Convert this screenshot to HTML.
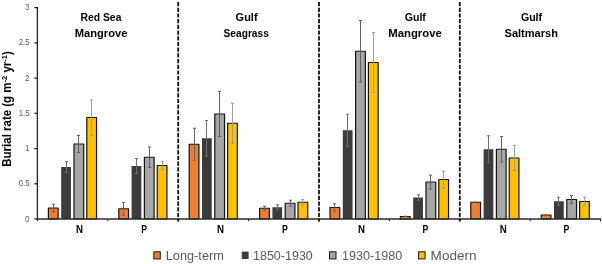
<!DOCTYPE html>
<html lang="en"><head><meta charset="utf-8"><title>Burial rate</title>
<style>html,body{margin:0;padding:0;background:#fff}svg{display:block;will-change:transform}</style></head>
<body>
<svg width="602" height="264" viewBox="0 0 602 264">
<rect width="602" height="264" fill="#fff"/>
<rect x="48.40" y="208.00" width="9.75" height="11.00" fill="#ED7D31" stroke="#141414" stroke-width="1.2" stroke-linejoin="round"/>
<rect x="61.20" y="167.00" width="9.75" height="52.00" fill="#3B3B3B"/>
<rect x="74.00" y="144.00" width="9.75" height="75.00" fill="#A6A6A6" stroke="#141414" stroke-width="1.2" stroke-linejoin="round"/>
<rect x="86.80" y="117.50" width="9.75" height="101.50" fill="#FFC000" stroke="#141414" stroke-width="1.2" stroke-linejoin="round"/>
<rect x="118.80" y="208.75" width="9.75" height="10.25" fill="#ED7D31" stroke="#141414" stroke-width="1.2" stroke-linejoin="round"/>
<rect x="131.60" y="166.00" width="9.75" height="53.00" fill="#3B3B3B"/>
<rect x="144.40" y="157.25" width="9.75" height="61.75" fill="#A6A6A6" stroke="#141414" stroke-width="1.2" stroke-linejoin="round"/>
<rect x="157.20" y="165.50" width="9.75" height="53.50" fill="#FFC000" stroke="#141414" stroke-width="1.2" stroke-linejoin="round"/>
<rect x="189.20" y="144.25" width="9.75" height="74.75" fill="#ED7D31" stroke="#141414" stroke-width="1.2" stroke-linejoin="round"/>
<rect x="202.00" y="138.25" width="9.75" height="80.75" fill="#3B3B3B"/>
<rect x="214.80" y="114.00" width="9.75" height="105.00" fill="#A6A6A6" stroke="#141414" stroke-width="1.2" stroke-linejoin="round"/>
<rect x="227.60" y="123.25" width="9.75" height="95.75" fill="#FFC000" stroke="#141414" stroke-width="1.2" stroke-linejoin="round"/>
<rect x="259.60" y="208.25" width="9.75" height="10.75" fill="#ED7D31" stroke="#141414" stroke-width="1.2" stroke-linejoin="round"/>
<rect x="272.40" y="207.25" width="9.75" height="11.75" fill="#3B3B3B"/>
<rect x="285.20" y="203.25" width="9.75" height="15.75" fill="#A6A6A6" stroke="#141414" stroke-width="1.2" stroke-linejoin="round"/>
<rect x="298.00" y="202.25" width="9.75" height="16.75" fill="#FFC000" stroke="#141414" stroke-width="1.2" stroke-linejoin="round"/>
<rect x="330.00" y="207.50" width="9.75" height="11.50" fill="#ED7D31" stroke="#141414" stroke-width="1.2" stroke-linejoin="round"/>
<rect x="342.80" y="130.25" width="9.75" height="88.75" fill="#3B3B3B"/>
<rect x="355.60" y="51.25" width="9.75" height="167.75" fill="#A6A6A6" stroke="#141414" stroke-width="1.2" stroke-linejoin="round"/>
<rect x="368.40" y="62.50" width="9.75" height="156.50" fill="#FFC000" stroke="#141414" stroke-width="1.2" stroke-linejoin="round"/>
<rect x="400.40" y="216.50" width="9.75" height="2.50" fill="#ED7D31" stroke="#141414" stroke-width="1.2" stroke-linejoin="round"/>
<rect x="413.20" y="197.50" width="9.75" height="21.50" fill="#3B3B3B"/>
<rect x="426.00" y="182.00" width="9.75" height="37.00" fill="#A6A6A6" stroke="#141414" stroke-width="1.2" stroke-linejoin="round"/>
<rect x="438.80" y="179.50" width="9.75" height="39.50" fill="#FFC000" stroke="#141414" stroke-width="1.2" stroke-linejoin="round"/>
<rect x="470.80" y="202.25" width="9.75" height="16.75" fill="#ED7D31" stroke="#141414" stroke-width="1.2" stroke-linejoin="round"/>
<rect x="483.60" y="149.25" width="9.75" height="69.75" fill="#3B3B3B"/>
<rect x="496.40" y="149.25" width="9.75" height="69.75" fill="#A6A6A6" stroke="#141414" stroke-width="1.2" stroke-linejoin="round"/>
<rect x="509.20" y="158.00" width="9.75" height="61.00" fill="#FFC000" stroke="#141414" stroke-width="1.2" stroke-linejoin="round"/>
<rect x="541.20" y="215.00" width="9.75" height="4.00" fill="#ED7D31" stroke="#141414" stroke-width="1.2" stroke-linejoin="round"/>
<rect x="554.00" y="201.25" width="9.75" height="17.75" fill="#3B3B3B"/>
<rect x="566.80" y="199.50" width="9.75" height="19.50" fill="#A6A6A6" stroke="#141414" stroke-width="1.2" stroke-linejoin="round"/>
<rect x="579.60" y="201.50" width="9.75" height="17.50" fill="#FFC000" stroke="#141414" stroke-width="1.2" stroke-linejoin="round"/>
<path d="M53.50 204.25V211.75M51.90 204.25H55.10M51.90 211.75H55.10" stroke="#666" stroke-width="1.0" fill="none"/>
<path d="M66.50 161.50V172.50M64.90 161.50H68.10M64.90 172.50H68.10" stroke="#6e6e6e" stroke-width="1.0" fill="none"/>
<path d="M78.50 135.50V152.50M76.90 135.50H80.10M76.90 152.50H80.10" stroke="#606060" stroke-width="1.0" fill="none"/>
<path d="M91.50 100.00V135.00M89.90 100.00H93.10M89.90 135.00H93.10" stroke="#969696" stroke-width="0.9" fill="none"/>
<path d="M123.50 202.50V215.00M121.90 202.50H125.10M121.90 215.00H125.10" stroke="#666" stroke-width="1.0" fill="none"/>
<path d="M136.50 158.50V173.50M134.90 158.50H138.10M134.90 173.50H138.10" stroke="#6e6e6e" stroke-width="1.0" fill="none"/>
<path d="M149.50 147.00V167.50M147.90 147.00H151.10M147.90 167.50H151.10" stroke="#606060" stroke-width="1.0" fill="none"/>
<path d="M162.50 161.50V169.50M160.90 161.50H164.10M160.90 169.50H164.10" stroke="#969696" stroke-width="0.9" fill="none"/>
<path d="M194.50 128.25V160.25M192.90 128.25H196.10M192.90 160.25H196.10" stroke="#666" stroke-width="1.0" fill="none"/>
<path d="M206.50 120.50V156.00M204.90 120.50H208.10M204.90 156.00H208.10" stroke="#6e6e6e" stroke-width="1.0" fill="none"/>
<path d="M219.50 91.50V136.50M217.90 91.50H221.10M217.90 136.50H221.10" stroke="#606060" stroke-width="1.0" fill="none"/>
<path d="M232.50 103.25V143.25M230.90 103.25H234.10M230.90 143.25H234.10" stroke="#969696" stroke-width="0.9" fill="none"/>
<path d="M264.50 206.25V210.25M262.90 206.25H266.10M262.90 210.25H266.10" stroke="#666" stroke-width="1.0" fill="none"/>
<path d="M277.50 204.75V209.75M275.90 204.75H279.10M275.90 209.75H279.10" stroke="#6e6e6e" stroke-width="1.0" fill="none"/>
<path d="M290.50 200.25V206.25M288.90 200.25H292.10M288.90 206.25H292.10" stroke="#606060" stroke-width="1.0" fill="none"/>
<path d="M302.50 199.50V205.00M300.90 199.50H304.10M300.90 205.00H304.10" stroke="#969696" stroke-width="0.9" fill="none"/>
<path d="M334.50 203.75V211.25M332.90 203.75H336.10M332.90 211.25H336.10" stroke="#666" stroke-width="1.0" fill="none"/>
<path d="M347.50 114.25V146.25M345.90 114.25H349.10M345.90 146.25H349.10" stroke="#6e6e6e" stroke-width="1.0" fill="none"/>
<path d="M360.50 20.50V82.00M358.90 20.50H362.10M358.90 82.00H362.10" stroke="#606060" stroke-width="1.0" fill="none"/>
<path d="M373.50 32.50V92.50M371.90 32.50H375.10M371.90 92.50H375.10" stroke="#969696" stroke-width="0.9" fill="none"/>
<path d="M404.00 216.20H407.00" stroke="#777" stroke-width="1" fill="none"/>
<path d="M418.50 194.75V200.25M416.90 194.75H420.10M416.90 200.25H420.10" stroke="#6e6e6e" stroke-width="1.0" fill="none"/>
<path d="M430.50 175.00V189.00M428.90 175.00H432.10M428.90 189.00H432.10" stroke="#606060" stroke-width="1.0" fill="none"/>
<path d="M443.50 171.25V187.75M441.90 171.25H445.10M441.90 187.75H445.10" stroke="#969696" stroke-width="0.9" fill="none"/>
<path d="M474.00 201.95H477.00" stroke="#777" stroke-width="1" fill="none"/>
<path d="M488.50 135.75V162.75M486.90 135.75H490.10M486.90 162.75H490.10" stroke="#6e6e6e" stroke-width="1.0" fill="none"/>
<path d="M501.50 136.50V162.00M499.90 136.50H503.10M499.90 162.00H503.10" stroke="#606060" stroke-width="1.0" fill="none"/>
<path d="M514.50 145.50V170.50M512.90 145.50H516.10M512.90 170.50H516.10" stroke="#969696" stroke-width="0.9" fill="none"/>
<path d="M545.00 214.70H548.00" stroke="#777" stroke-width="1" fill="none"/>
<path d="M558.50 197.25V205.25M556.90 197.25H560.10M556.90 205.25H560.10" stroke="#6e6e6e" stroke-width="1.0" fill="none"/>
<path d="M571.50 195.50V203.50M569.90 195.50H573.10M569.90 203.50H573.10" stroke="#606060" stroke-width="1.0" fill="none"/>
<path d="M584.50 197.25V205.75M582.90 197.25H586.10M582.90 205.75H586.10" stroke="#969696" stroke-width="0.9" fill="none"/>
<path d="M37.4 7V219.0" stroke="#2b2b2b" stroke-width="1.4" fill="none"/>
<path d="M36.699999999999996 219.0H601.15" stroke="#2b2b2b" stroke-width="1.4" fill="none"/>
<path d="M34.4 219.00H37.4" stroke="#111" stroke-width="1.2"/>
<path d="M34.4 183.77H37.4" stroke="#111" stroke-width="1.2"/>
<path d="M34.4 148.54H37.4" stroke="#111" stroke-width="1.2"/>
<path d="M34.4 113.31H37.4" stroke="#111" stroke-width="1.2"/>
<path d="M34.4 78.08H37.4" stroke="#111" stroke-width="1.2"/>
<path d="M34.4 42.85H37.4" stroke="#111" stroke-width="1.2"/>
<path d="M34.4 7.62H37.4" stroke="#111" stroke-width="1.2"/>
<path d="M37.40 219.0V221.2" stroke="#2b2b2b" stroke-width="1.1"/>
<path d="M107.80 219.0V221.2" stroke="#2b2b2b" stroke-width="1.1"/>
<path d="M178.20 219.0V221.2" stroke="#2b2b2b" stroke-width="1.1"/>
<path d="M248.60 219.0V221.2" stroke="#2b2b2b" stroke-width="1.1"/>
<path d="M319.00 219.0V221.2" stroke="#2b2b2b" stroke-width="1.1"/>
<path d="M389.40 219.0V221.2" stroke="#2b2b2b" stroke-width="1.1"/>
<path d="M459.80 219.0V221.2" stroke="#2b2b2b" stroke-width="1.1"/>
<path d="M530.20 219.0V221.2" stroke="#2b2b2b" stroke-width="1.1"/>
<path d="M600.60 219.0V221.2" stroke="#2b2b2b" stroke-width="1.1"/>
<path d="M178.20 2V221.5" stroke="#111" stroke-width="1.8" stroke-dasharray="4.2 1.5" fill="none"/>
<path d="M319.00 2V221.5" stroke="#111" stroke-width="1.8" stroke-dasharray="4.2 1.5" fill="none"/>
<path d="M459.80 2V221.5" stroke="#111" stroke-width="1.8" stroke-dasharray="4.2 1.5" fill="none"/>
<text x="29.6" y="221.60" text-anchor="end" font-family="Liberation Sans, Arial, Helvetica, sans-serif" font-size="8.5" fill="#595959" textLength="4.5" lengthAdjust="spacingAndGlyphs">0</text>
<text x="29.6" y="186.37" text-anchor="end" font-family="Liberation Sans, Arial, Helvetica, sans-serif" font-size="8.5" fill="#595959" textLength="10.9" lengthAdjust="spacingAndGlyphs">0.5</text>
<text x="29.6" y="151.14" text-anchor="end" font-family="Liberation Sans, Arial, Helvetica, sans-serif" font-size="8.5" fill="#595959" textLength="4.5" lengthAdjust="spacingAndGlyphs">1</text>
<text x="29.6" y="115.91" text-anchor="end" font-family="Liberation Sans, Arial, Helvetica, sans-serif" font-size="8.5" fill="#595959" textLength="10.9" lengthAdjust="spacingAndGlyphs">1.5</text>
<text x="29.6" y="80.68" text-anchor="end" font-family="Liberation Sans, Arial, Helvetica, sans-serif" font-size="8.5" fill="#595959" textLength="4.5" lengthAdjust="spacingAndGlyphs">2</text>
<text x="29.6" y="45.45" text-anchor="end" font-family="Liberation Sans, Arial, Helvetica, sans-serif" font-size="8.5" fill="#595959" textLength="10.9" lengthAdjust="spacingAndGlyphs">2.5</text>
<text x="29.6" y="10.22" text-anchor="end" font-family="Liberation Sans, Arial, Helvetica, sans-serif" font-size="8.5" fill="#595959" textLength="4.5" lengthAdjust="spacingAndGlyphs">3</text>
<g transform="translate(11.4 166.7) rotate(-90)"><text x="0" y="0" font-family="Liberation Sans, Arial, Helvetica, sans-serif" font-size="11.9" font-weight="bold" fill="#000" textLength="115.5" lengthAdjust="spacingAndGlyphs">Burial rate (g m<tspan font-size="7.8" dy="-4.4">-2</tspan><tspan dy="4.4"> yr</tspan><tspan font-size="7.8" dy="-4.4">-1</tspan><tspan dy="4.4">)</tspan></text></g>
<text x="80.50" y="21.0" font-family="Liberation Sans, Arial, Helvetica, sans-serif" font-size="11.3" font-weight="bold" fill="#000" textLength="40.90" lengthAdjust="spacingAndGlyphs">Red Sea</text>
<text x="74.70" y="37.2" font-family="Liberation Sans, Arial, Helvetica, sans-serif" font-size="11.3" font-weight="bold" fill="#000" textLength="52.70" lengthAdjust="spacingAndGlyphs">Mangrove</text>
<text x="235.60" y="21.0" font-family="Liberation Sans, Arial, Helvetica, sans-serif" font-size="11.3" font-weight="bold" fill="#000" textLength="22.00" lengthAdjust="spacingAndGlyphs">Gulf</text>
<text x="223.50" y="37.2" font-family="Liberation Sans, Arial, Helvetica, sans-serif" font-size="11.3" font-weight="bold" fill="#000" textLength="45.40" lengthAdjust="spacingAndGlyphs">Seagrass</text>
<text x="404.70" y="21.0" font-family="Liberation Sans, Arial, Helvetica, sans-serif" font-size="11.3" font-weight="bold" fill="#000" textLength="21.20" lengthAdjust="spacingAndGlyphs">Gulf</text>
<text x="388.30" y="37.2" font-family="Liberation Sans, Arial, Helvetica, sans-serif" font-size="11.3" font-weight="bold" fill="#000" textLength="53.50" lengthAdjust="spacingAndGlyphs">Mangrove</text>
<text x="520.90" y="21.0" font-family="Liberation Sans, Arial, Helvetica, sans-serif" font-size="11.3" font-weight="bold" fill="#000" textLength="21.20" lengthAdjust="spacingAndGlyphs">Gulf</text>
<text x="504.50" y="37.2" font-family="Liberation Sans, Arial, Helvetica, sans-serif" font-size="11.3" font-weight="bold" fill="#000" textLength="53.50" lengthAdjust="spacingAndGlyphs">Saltmarsh</text>
<text x="75.90" y="233.4" font-family="Liberation Sans, Arial, Helvetica, sans-serif" font-size="11.6" font-weight="bold" fill="#000" textLength="7.00" lengthAdjust="spacingAndGlyphs">N</text>
<text x="216.90" y="233.4" font-family="Liberation Sans, Arial, Helvetica, sans-serif" font-size="11.6" font-weight="bold" fill="#000" textLength="7.00" lengthAdjust="spacingAndGlyphs">N</text>
<text x="357.90" y="233.4" font-family="Liberation Sans, Arial, Helvetica, sans-serif" font-size="11.6" font-weight="bold" fill="#000" textLength="7.00" lengthAdjust="spacingAndGlyphs">N</text>
<text x="499.80" y="233.4" font-family="Liberation Sans, Arial, Helvetica, sans-serif" font-size="11.6" font-weight="bold" fill="#000" textLength="7.00" lengthAdjust="spacingAndGlyphs">N</text>
<text x="141.20" y="233.4" font-family="Liberation Sans, Arial, Helvetica, sans-serif" font-size="11.6" font-weight="bold" fill="#000" textLength="5.80" lengthAdjust="spacingAndGlyphs">P</text>
<text x="281.90" y="233.4" font-family="Liberation Sans, Arial, Helvetica, sans-serif" font-size="11.6" font-weight="bold" fill="#000" textLength="5.80" lengthAdjust="spacingAndGlyphs">P</text>
<text x="422.40" y="233.4" font-family="Liberation Sans, Arial, Helvetica, sans-serif" font-size="11.6" font-weight="bold" fill="#000" textLength="5.80" lengthAdjust="spacingAndGlyphs">P</text>
<text x="563.40" y="233.4" font-family="Liberation Sans, Arial, Helvetica, sans-serif" font-size="11.6" font-weight="bold" fill="#000" textLength="5.80" lengthAdjust="spacingAndGlyphs">P</text>
<rect x="153.80" y="251.8" width="6.5" height="7.1" fill="#ED7D31" stroke="#1a1a1a" stroke-width="1"/>
<text x="165.80" y="259.6" font-family="Liberation Sans, Arial, Helvetica, sans-serif" font-size="12.2" fill="#595959" textLength="58.00" lengthAdjust="spacingAndGlyphs">Long-term</text>
<rect x="241.8" y="251.6" width="6.8" height="7.4" fill="#3B3B3B"/>
<text x="253.00" y="259.6" font-family="Liberation Sans, Arial, Helvetica, sans-serif" font-size="12.2" fill="#595959" textLength="59.80" lengthAdjust="spacingAndGlyphs">1850-1930</text>
<rect x="329.50" y="251.8" width="6.5" height="7.1" fill="#A6A6A6" stroke="#1a1a1a" stroke-width="1"/>
<text x="342.00" y="259.6" font-family="Liberation Sans, Arial, Helvetica, sans-serif" font-size="12.2" fill="#595959" textLength="60.40" lengthAdjust="spacingAndGlyphs">1930-1980</text>
<rect x="418.60" y="251.8" width="6.5" height="7.1" fill="#FFC000" stroke="#1a1a1a" stroke-width="1"/>
<text x="430.60" y="259.6" font-family="Liberation Sans, Arial, Helvetica, sans-serif" font-size="12.2" fill="#595959" textLength="46.00" lengthAdjust="spacingAndGlyphs">Modern</text>
</svg>
</body></html>
